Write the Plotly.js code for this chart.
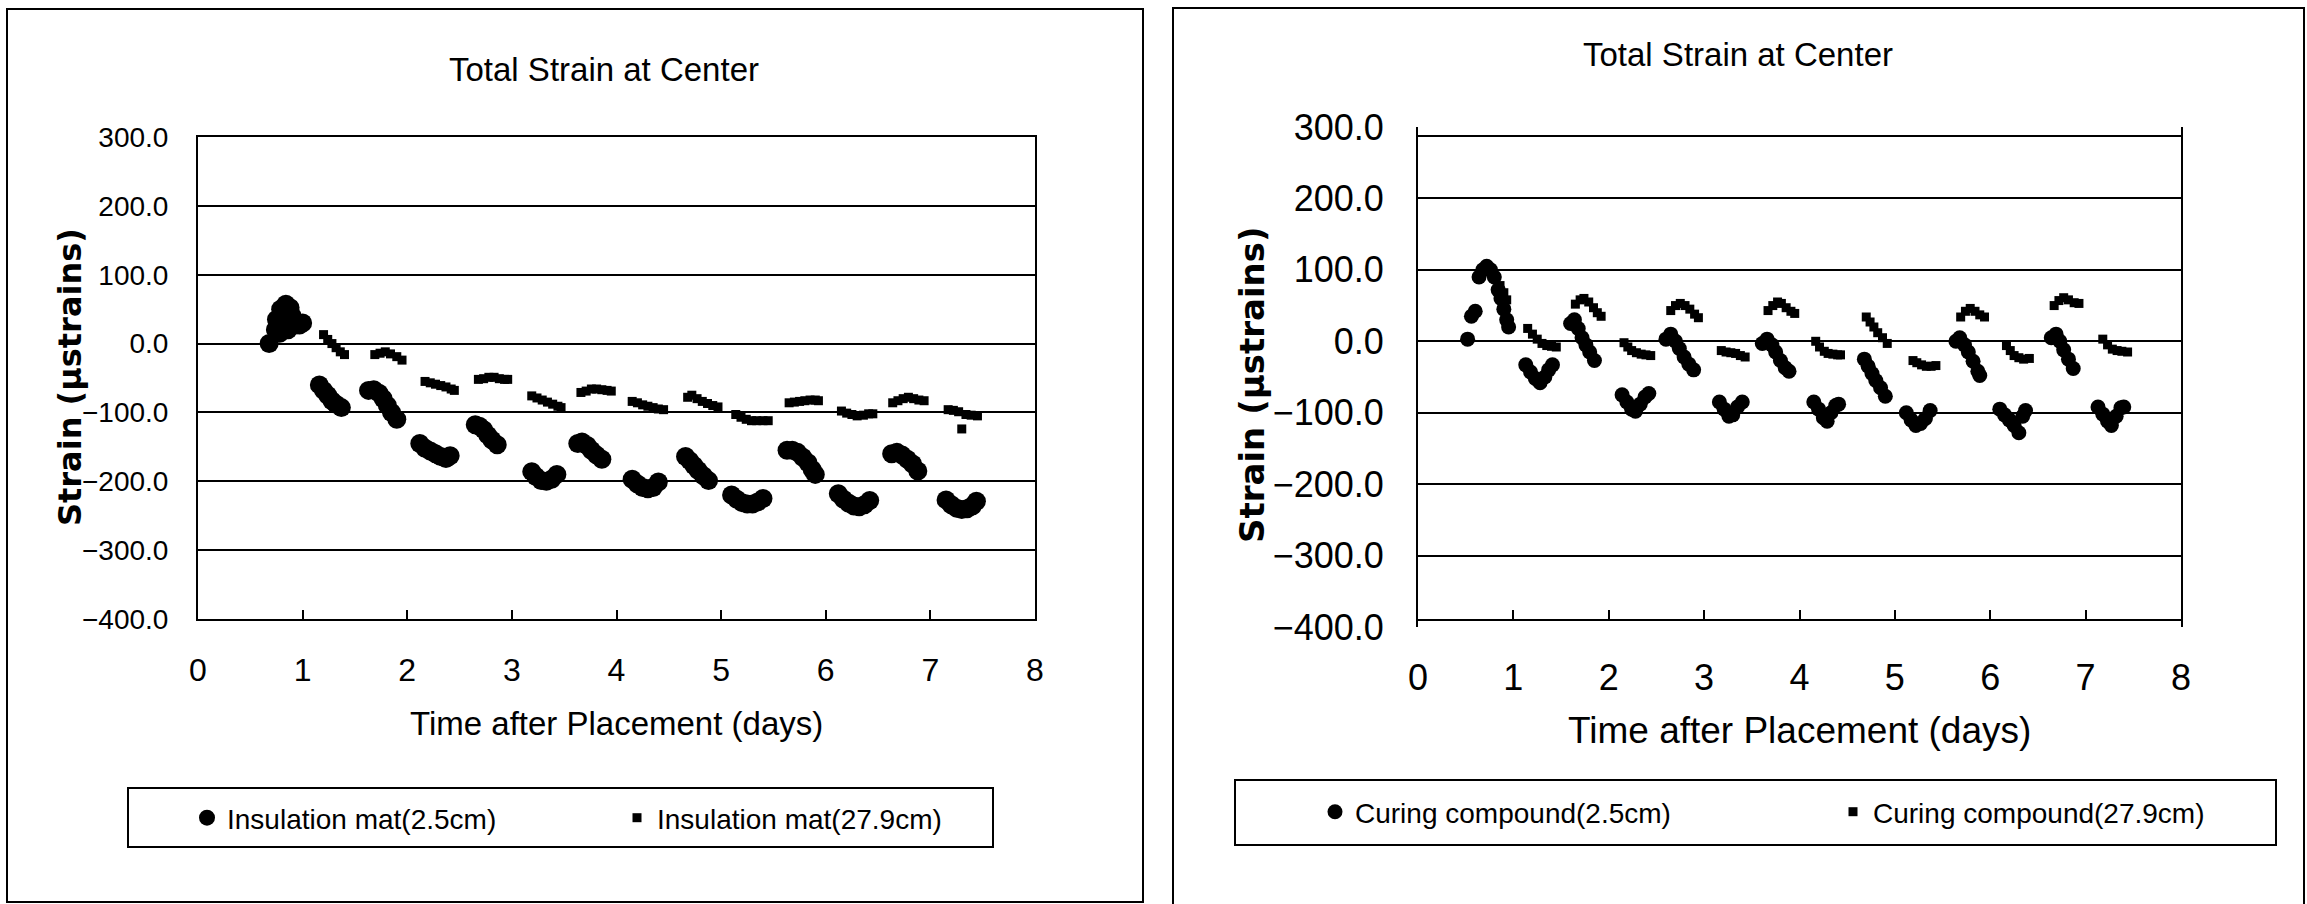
<!DOCTYPE html>
<html>
<head>
<meta charset="utf-8">
<script src="https://cdn.plot.ly/plotly-3.0.1.min.js"></script>
<style>
html,body{margin:0;padding:0;background:#fff;}
#chart{width:2307px;height:904px;}
</style>
</head>
<body>
<div id="chart"></div>
<script>
// ---------- Left chart: Insulation mat ----------
var matShallowDays = [0.68,0.74,0.75,0.79,0.84,0.88,0.90,0.86,0.78,0.93,0.97,1.00,
  1.16,1.20,1.24,1.28,1.32,1.37,
  1.63,1.68,1.73,1.77,1.81,1.85,1.90,
  2.12,2.17,2.22,2.27,2.32,2.37,2.41,
  2.65,2.69,2.73,2.77,2.81,2.86,
  3.19,3.23,3.28,3.33,3.38,3.43,
  3.63,3.67,3.72,3.76,3.81,3.86,
  4.15,4.20,4.25,4.30,4.35,4.40,
  4.66,4.70,4.74,4.78,4.83,4.88,
  5.10,5.15,5.20,5.25,5.30,5.35,5.40,
  5.63,5.68,5.73,5.78,5.83,5.87,5.90,
  6.12,6.17,6.22,6.27,6.32,6.37,6.42,
  6.63,6.68,6.73,6.78,6.83,6.88,
  7.15,7.20,7.25,7.30,7.35,7.40,7.44];
var matShallowStrain = [0,20,35,50,57,52,40,20,15,27,27,30,
  -60,-68,-75,-83,-88,-93,
  -68,-67,-72,-80,-90,-100,-110,
  -145,-152,-156,-160,-164,-167,-163,
  -118,-120,-125,-133,-140,-147,
  -186,-193,-199,-200,-197,-190,
  -145,-143,-148,-155,-162,-168,
  -197,-204,-209,-211,-209,-201,
  -164,-170,-177,-184,-192,-199,
  -220,-226,-231,-233,-233,-230,-225,
  -155,-155,-158,-165,-173,-183,-190,
  -218,-226,-232,-236,-237,-234,-228,
  -160,-158,-162,-168,-175,-185,
  -227,-234,-239,-241,-240,-236,-229];

var matDeepDays = [1.20,1.24,1.28,1.32,1.36,1.40,
  1.69,1.74,1.79,1.84,1.90,1.95,
  2.17,2.22,2.27,2.32,2.37,2.42,2.45,
  2.68,2.73,2.78,2.83,2.88,2.93,2.96,
  3.19,3.24,3.29,3.34,3.39,3.44,3.47,
  3.66,3.71,3.76,3.81,3.86,3.91,3.95,
  4.15,4.20,4.25,4.30,4.35,4.40,4.45,
  4.68,4.72,4.77,4.82,4.87,4.92,4.97,
  5.14,5.19,5.24,5.29,5.34,5.40,5.45,
  5.65,5.70,5.75,5.80,5.85,5.90,5.93,
  6.15,6.20,6.25,6.30,6.36,6.41,6.45,
  6.64,6.69,6.74,6.79,6.84,6.89,6.94,
  7.17,7.22,7.27,7.30,7.34,7.39,7.45];
var matDeepStrain = [13,6,0,-6,-12,-16,
  -16,-14,-12,-15,-19,-24,
  -55,-57,-59,-61,-63,-66,-68,
  -52,-51,-49,-49,-51,-52,-52,
  -76,-79,-82,-85,-88,-91,-93,
  -71,-69,-66,-66,-67,-68,-69,
  -84,-86,-89,-91,-93,-95,-96,
  -78,-75,-80,-84,-87,-90,-92,
  -103,-107,-110,-112,-112,-112,-112,
  -86,-85,-84,-83,-82,-82,-83,
  -98,-101,-103,-105,-104,-102,-102,
  -86,-83,-80,-78,-80,-82,-83,
  -96,-97,-99,-124,-103,-104,-105];

// ---------- Right chart: Curing compound ----------
var cureShallowDays = [0.52,0.56,0.60,0.64,0.68,0.72,0.76,0.80,0.84,0.87,0.90,0.93,0.95,
  1.13,1.18,1.23,1.28,1.33,1.37,1.41,
  1.60,1.64,1.68,1.72,1.76,1.80,1.85,
  2.14,2.19,2.24,2.28,2.33,2.38,2.42,
  2.60,2.65,2.70,2.74,2.79,2.84,2.89,
  3.16,3.21,3.26,3.30,3.35,3.40,
  3.61,3.66,3.71,3.75,3.80,3.85,3.89,
  4.15,4.20,4.25,4.29,4.33,4.38,4.41,
  4.68,4.72,4.76,4.80,4.85,4.90,
  5.12,5.17,5.22,5.27,5.32,5.37,
  5.64,5.68,5.73,5.77,5.82,5.87,5.89,
  6.10,6.15,6.20,6.25,6.30,6.34,6.37,
  6.64,6.69,6.73,6.77,6.82,6.87,
  7.13,7.18,7.23,7.27,7.32,7.37,7.40];
var cureShallowStrain = [3,35,42,90,100,105,100,90,72,60,45,30,20,
  -33,-43,-52,-58,-50,-40,-33,
  25,30,18,5,-5,-15,-27,
  -75,-85,-95,-98,-88,-78,-73,
  3,10,0,-10,-22,-32,-40,
  -85,-95,-105,-103,-92,-85,
  -3,3,-5,-15,-27,-37,-42,
  -85,-95,-107,-112,-100,-90,-88,
  -25,-35,-45,-55,-65,-77,
  -100,-110,-118,-115,-108,-97,
  0,5,-5,-15,-28,-42,-48,
  -95,-103,-110,-118,-128,-105,-97,
  5,10,0,-12,-25,-38,
  -92,-102,-112,-118,-105,-93,-92];

var cureDeepDays = [0.86,0.90,0.93,
  1.15,1.20,1.25,1.30,1.35,1.40,1.45,
  1.65,1.70,1.74,1.79,1.84,1.88,1.92,
  2.16,2.20,2.24,2.29,2.34,2.39,2.44,
  2.65,2.70,2.75,2.80,2.85,2.90,2.94,
  3.18,3.23,3.28,3.33,3.38,3.43,
  3.67,3.72,3.77,3.81,3.86,3.91,3.95,
  4.17,4.21,4.26,4.30,4.35,4.40,4.43,
  4.70,4.74,4.78,4.82,4.87,4.92,
  5.19,5.23,5.28,5.33,5.38,5.43,
  5.69,5.74,5.79,5.84,5.89,5.94,
  6.17,6.21,6.25,6.30,6.35,6.41,
  6.67,6.72,6.77,6.82,6.88,6.93,
  7.18,7.23,7.28,7.33,7.38,7.44];
var cureDeepStrain = [78,68,58,
  18,10,3,-3,-6,-7,-8,
  52,58,60,55,47,40,35,
  -2,-8,-13,-16,-18,-19,-20,
  43,50,53,50,45,38,33,
  -13,-15,-16,-17,-20,-22,
  43,50,55,53,47,42,39,
  0,-8,-14,-17,-18,-19,-19,
  34,27,20,12,5,-3,
  -27,-30,-33,-35,-35,-34,
  34,42,46,42,37,34,
  -6,-13,-20,-23,-25,-24,
  50,57,61,58,54,53,
  3,-5,-11,-13,-14,-15];

var chartTitle = 'Total Strain at Center';
var xTitle = 'Time after Placement (days)';
var yTitle = 'Strain (\u03bcstrains)';
var legendNames = ['Insulation mat(2.5cm)', 'Insulation mat(27.9cm)', 'Curing compound(2.5cm)', 'Curing compound(27.9cm)'];

// ---------- layout helpers (pixel -> paper) ----------
var W = 2307, H = 904;
function px(x){ return x / W; }
function py(y){ return 1 - y / H; }

var sans = 'Liberation Sans, Arial, sans-serif';
var dv = 'DejaVu Sans, sans-serif';

var traces = [
  {x: matShallowDays, y: matShallowStrain, type:'scatter', mode:'markers', name: legendNames[0],
   marker:{symbol:'circle', size:19, color:'#000'}, xaxis:'x', yaxis:'y', legend:'legend'},
  {x: matDeepDays, y: matDeepStrain, type:'scatter', mode:'markers', name: legendNames[1],
   marker:{symbol:'square', size:9, color:'#000'}, xaxis:'x', yaxis:'y', legend:'legend2'},
  {x: cureShallowDays, y: cureShallowStrain, type:'scatter', mode:'markers', name: legendNames[2],
   marker:{symbol:'circle', size:15, color:'#000'}, xaxis:'x2', yaxis:'y2', legend:'legend3'},
  {x: cureDeepDays, y: cureDeepStrain, type:'scatter', mode:'markers', name: legendNames[3],
   marker:{symbol:'square', size:9, color:'#000'}, xaxis:'x2', yaxis:'y2', legend:'legend4'}
];

function xAxis(domain, fontSize, standoff){
  return {domain: domain, range:[0,8], tick0:0, dtick:1, showgrid:false, zeroline:false,
    showline:true, mirror:true, linecolor:'#000', linewidth:2,
    ticks:'inside', ticklen:9, tickwidth:2, tickcolor:'#000',
    tickfont:{family:sans, size:fontSize, color:'#000'}, ticklabelstandoff: standoff, fixedrange:true};
}
function yAxis(domain, anchor, fontSize, standoff){
  return {domain: domain, range:[-400,300], tick0:-400, dtick:100, tickformat:'.1f',
    showgrid:true, gridcolor:'#000', gridwidth:2, zeroline:false,
    showline:true, mirror:true, linecolor:'#000', linewidth:2, ticks:'',
    tickfont:{family:sans, size:fontSize, color:'#000'}, ticklabelstandoff: standoff, anchor: anchor, fixedrange:true};
}
function legendAt(xpx, ypx, fontSize){
  return {x: px(xpx), y: py(ypx), xanchor:'left', yanchor:'middle', orientation:'h',
    bgcolor:'rgba(0,0,0,0)', borderwidth:0, itemsizing:'trace',
    font:{family:sans, size:fontSize, color:'#000'}};
}

var layout = {
  width: W, height: H, margin:{l:0,r:0,t:0,b:0}, paper_bgcolor:'#fff', plot_bgcolor:'#fff',
  showlegend:true, font:{family:sans, color:'#000'},
  xaxis: xAxis([px(198), px(1035)], 32, 22),
  yaxis: yAxis([py(619), py(137)], 'x', 28, 22),
  xaxis2: xAxis([px(1418), px(2181)], 36, 26),
  yaxis2: yAxis([py(627), py(127)], 'x2', 36, 25),
  legend: legendAt(207-20, 818, 28),
  legend2: legendAt(637-20, 818, 28),
  legend3: legendAt(1335-20, 812, 28),
  legend4: legendAt(1853-20, 812, 28),
  annotations: [
    {text: chartTitle, xref:'paper', yref:'paper', x:px(604), y:py(69), xanchor:'center', yanchor:'middle', showarrow:false, font:{family:sans, size:33, color:'#000'}},
    {text: chartTitle, xref:'paper', yref:'paper', x:px(1738), y:py(55), xanchor:'center', yanchor:'middle', showarrow:false, font:{family:sans, size:33, color:'#000'}},
    {text: xTitle, xref:'paper', yref:'paper', x:px(616), y:py(723), xanchor:'center', yanchor:'middle', showarrow:false, font:{family:sans, size:33, color:'#000'}},
    {text: xTitle, xref:'paper', yref:'paper', x:px(1799), y:py(730), xanchor:'center', yanchor:'middle', showarrow:false, font:{family:sans, size:37, color:'#000'}},
    {text: '<b>' + yTitle + '</b>', xref:'paper', yref:'paper', x:px(70), y:py(377), xanchor:'center', yanchor:'middle', textangle:-90, showarrow:false, font:{family:dv, size:32, color:'#000'}},
    {text: '<b>' + yTitle + '</b>', xref:'paper', yref:'paper', x:px(1252), y:py(385), xanchor:'center', yanchor:'middle', textangle:-90, showarrow:false, font:{family:dv, size:34, color:'#000'}}
  ],
  shapes: [
    {type:'rect', xref:'paper', yref:'paper', x0:px(7), y0:py(902), x1:px(1143), y1:py(9), line:{color:'#000', width:2}},
    {type:'path', xref:'paper', yref:'paper', path:'M '+px(1173)+' '+py(904)+' L '+px(1173)+' '+py(8)+' L '+px(2304)+' '+py(8)+' L '+px(2304)+' '+py(904), line:{color:'#000', width:2}},
    {type:'rect', xref:'paper', yref:'paper', x0:px(128), y0:py(847), x1:px(993), y1:py(788), line:{color:'#000', width:2}},
    {type:'rect', xref:'paper', yref:'paper', x0:px(1235), y0:py(845), x1:px(2276), y1:py(780), line:{color:'#000', width:2}}
  ]
};

Plotly.newPlot('chart', traces, layout, {staticPlot:true, displayModeBar:false});
</script>
</body>
</html>
